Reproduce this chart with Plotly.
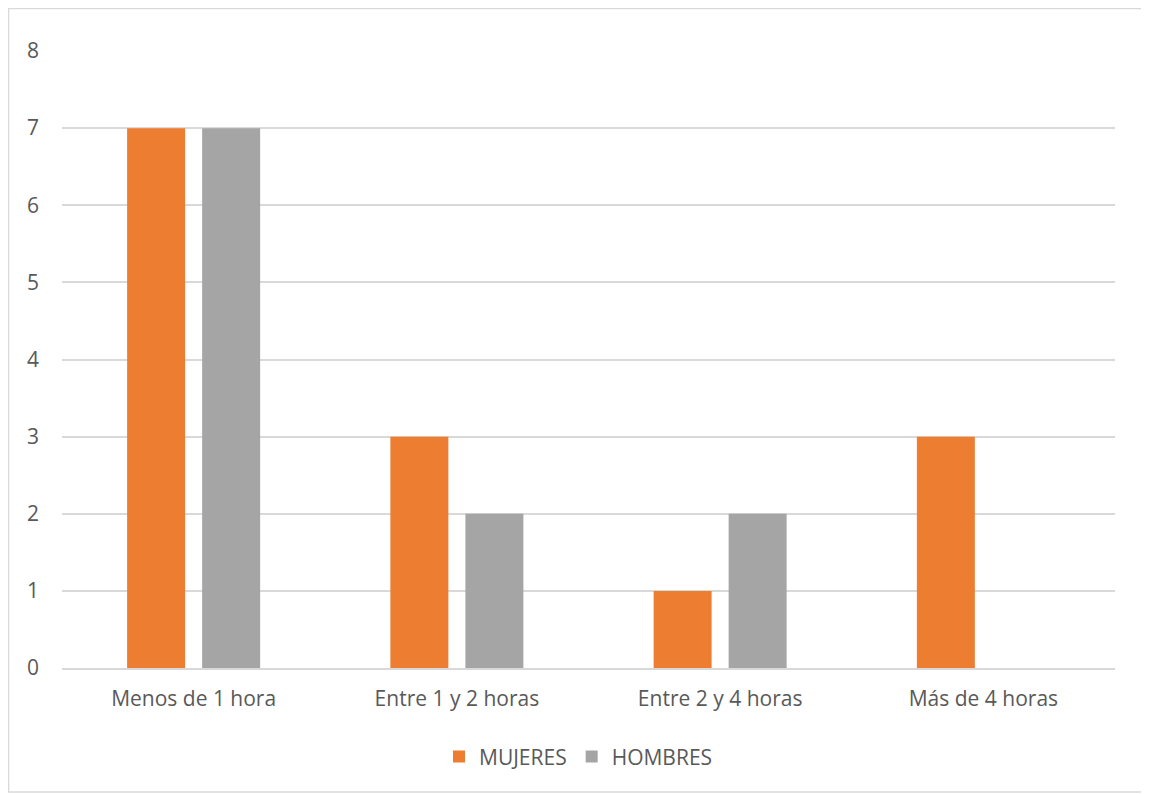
import plotly.graph_objects as go

categories = ["Menos de 1 hora", "Entre 1 y 2 horas", "Entre 2 y 4 horas", "Más de 4 horas"]
mujeres = [7, 3, 1, 3]
hombres = [7, 2, 2, 0]
y_ticks = [0, 1, 2, 3, 4, 5, 6, 7, 8]

fig = go.Figure()
fig.add_trace(go.Bar(name="MUJERES", x=categories, y=mujeres, marker_color="#ED7D31", marker_line_width=0))
fig.add_trace(go.Bar(name="HOMBRES", x=categories, y=hombres, marker_color="#A5A5A5", marker_line_width=0))

fig.update_layout(
    width=1141, height=786,
    margin=dict(l=54, r=34, t=43, b=126),
    paper_bgcolor="white", plot_bgcolor="white",
    barmode="group", bargap=0.43, bargroupgap=0.227,
    font=dict(family="Open Sans", size=21, color="#595959"),
    showlegend=True,
    legend=dict(orientation="h", x=0.4905, xanchor="center", y=-0.144, yanchor="middle",
                font=dict(size=21, color="#595959"), itemwidth=30),
    xaxis=dict(showgrid=False, showline=True, linecolor="#D9D9D9", linewidth=1.5,
               ticks="", tickfont=dict(size=21), ticklabelstandoff=11),
    yaxis=dict(range=[0, 8], tickvals=y_ticks, showgrid=True, gridcolor="#D9D9D9", gridwidth=1.5,
               zeroline=False, ticks="", tickfont=dict(size=21), ticklabelstandoff=22),
    shapes=[dict(type="rect", xref="paper", yref="paper", x0=-0.0508, x1=1.0285, y0=-0.201, y1=1.0689,
                 line=dict(color="#D9D9D9", width=1.5), fillcolor="rgba(0,0,0,0)", layer="below")]
)
fig.write_html("out.html")
